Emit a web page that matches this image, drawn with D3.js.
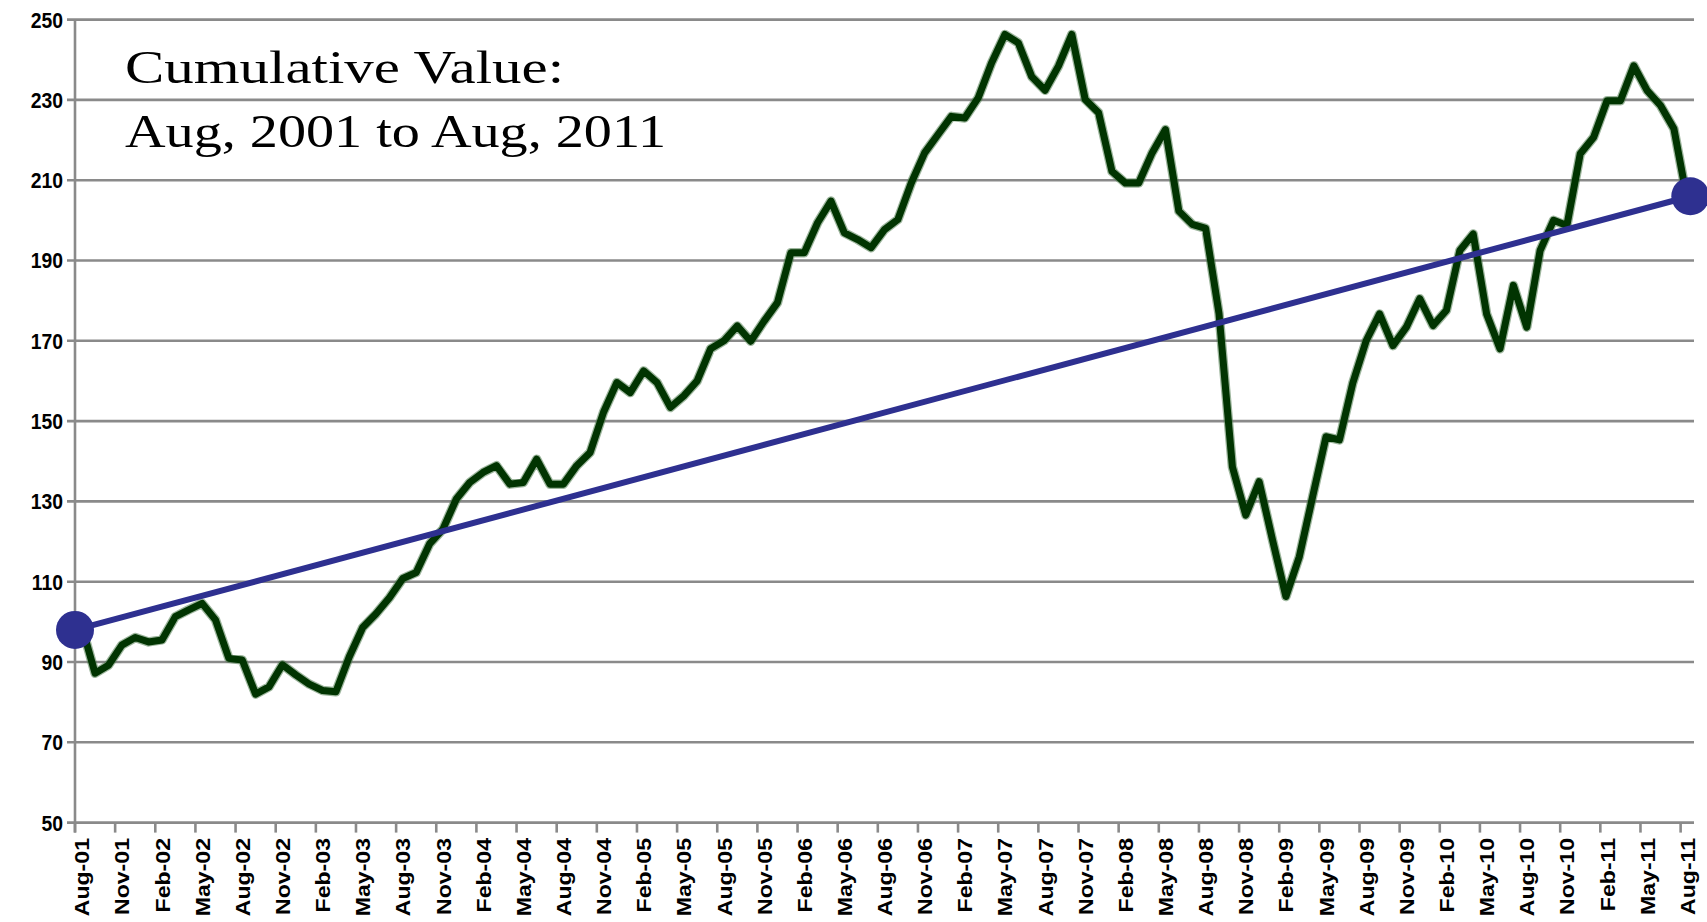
<!DOCTYPE html>
<html>
<head>
<meta charset="utf-8">
<title>Cumulative Value</title>
<script src="https://cdn.jsdelivr.net/npm/d3@7"></script>
<style>
  body { margin: 0; background: #fff; }
  .ylab { font: bold 22px "Liberation Sans", Arial, sans-serif; fill: #000; }
  .xlab { font: bold 21px "Liberation Sans", Arial, sans-serif; fill: #000; }
  .title { font: 46px "Liberation Serif", "Times New Roman", serif; fill: #000; }
</style>
</head>
<body>
<div id="chart"></div>
<script>
var width = 1707, height = 922;

// monthly categories, Aug-01 .. Aug-11
var firstMonth = new Date(2001, 7, 1);
var lastMonth = new Date(2011, 7, 1);

// cumulative value, one per month
var values = [
  99, 87.2, 89.2, 94.2, 96.1, 95, 95.5, 101.3, 103, 104.6, 100.5, 90.9,
  90.5, 82, 83.8, 89.3, 86.8, 84.5, 82.9, 82.6, 91.3, 98.6, 102, 106,
  110.8, 112.3, 119.4, 123.1, 130.6, 134.7, 137.2, 138.9, 134.3, 134.7, 140.5, 134.3,
  134.3, 138.9, 142.2, 152.2, 159.6, 157.1, 162.5, 159.6, 153.4, 156.3, 160, 168,
  170, 173.7, 169.9, 174.9, 179.5, 191.9, 191.9, 199.4, 204.8, 196.9, 195.2, 193.2,
  197.7, 200.2, 209.3, 216.8, 221.4, 225.9, 225.5, 230.5, 239.2, 246.3, 244.2, 235.8,
  232.4, 238.4, 246.3, 230.1, 226.8, 212.2, 209.3, 209.3, 216.8, 222.6, 202.3, 199,
  198, 176.8, 138.6, 126.6, 134.9, 120.4, 106.3, 116.2, 131.2, 146.1, 145.3, 159.5,
  170, 176.7, 168.8, 173.4, 180.5, 173.8, 177.6, 192.5, 196.6, 176.7, 168, 183.8,
  173.4, 192.5, 200, 198.7, 216.6, 220.7, 229.8, 229.8, 238.5, 232.3, 228.6, 222.8,
  205
];

// linear trend end points
var trendValues = [98, 206];

var yTicks = [50, 70, 90, 110, 130, 150, 170, 190, 210, 230, 250];
var labelEvery = 3;
var titleLines = ["Cumulative Value:", "Aug, 2001 to Aug, 2011"];

var months = d3.timeMonth.range(firstMonth, d3.timeMonth.offset(lastMonth, 1));
var fmt = d3.timeFormat("%b-%y");

var svg = d3.select("#chart").append("svg")
  .attr("width", width)
  .attr("height", height);

var x = d3.scaleBand().domain(d3.range(months.length)).range([75, 1694]);
var y = d3.scaleLinear().domain([50, 250]).range([822.6, 19.6]);
var cx = function(i){ return x(i) + x.bandwidth() / 2; };

// gridlines + y ticks
svg.append("g").selectAll("line").data(yTicks).enter().append("line")
  .attr("x1", 67).attr("x2", x.range()[1])
  .attr("y1", function(d){ return y(d); })
  .attr("y2", function(d){ return y(d); })
  .attr("stroke", "#8a8a8a")
  .attr("stroke-width", 2.6);

// y axis line
svg.append("line")
  .attr("x1", x.range()[0]).attr("x2", x.range()[0])
  .attr("y1", y(250)).attr("y2", y(50) + 10)
  .attr("stroke", "#8a8a8a").attr("stroke-width", 2.6);

svg.append("g").selectAll("text").data(yTicks).enter().append("text")
  .attr("class", "ylab")
  .attr("text-anchor", "end")
  .attr("dy", "0.36em")
  .attr("transform", function(d){ return "translate(63," + y(d) + ") scale(0.88,1)"; })
  .text(function(d){ return d; });

// x ticks at category boundaries
var tickIdx = d3.range(0, months.length, labelEvery);
svg.append("g").selectAll("line").data(tickIdx).enter().append("line")
  .attr("x1", function(i){ return x(i); })
  .attr("x2", function(i){ return x(i); })
  .attr("y1", y(50)).attr("y2", y(50) + 10)
  .attr("stroke", "#8a8a8a").attr("stroke-width", 2.6);

svg.append("g").selectAll("text").data(tickIdx).enter().append("text")
  .attr("class", "xlab")
  .attr("text-anchor", "end")
  .attr("dy", "0.36em")
  .attr("transform", function(i){ return "translate(" + cx(i) + ",838) rotate(-90) scale(1.1,1)"; })
  .text(function(i){ return fmt(months[i]); });

// series
var line = d3.line()
  .x(function(d, i){ return cx(i); })
  .y(function(d){ return y(d); });

svg.append("path").datum(values)
  .attr("d", line)
  .attr("fill", "none")
  .attr("stroke", "#4d7a4d")
  .attr("stroke-opacity", 0.55)
  .attr("stroke-width", 9.5)
  .attr("stroke-linejoin", "round");

svg.append("path").datum(values)
  .attr("d", line)
  .attr("fill", "none")
  .attr("stroke", "#013401")
  .attr("stroke-width", 7)
  .attr("stroke-linejoin", "round");

// trend: drawn from the axis to the last month
var trendX = [x(0), cx(months.length - 1) + 3];
svg.append("line")
  .attr("x1", trendX[0]).attr("y1", y(trendValues[0]))
  .attr("x2", trendX[1]).attr("y2", y(trendValues[1]))
  .attr("stroke", "#2e3090")
  .attr("stroke-width", 6);

svg.append("g").selectAll("circle").data(trendValues).enter().append("circle")
  .attr("cx", function(d, k){ return trendX[k]; })
  .attr("cy", function(d){ return y(d); })
  .attr("r", 19)
  .attr("fill", "#2e3090");

// title
var lens = [439, 541];
svg.append("g").selectAll("text").data(titleLines).enter().append("text")
  .attr("class", "title")
  .attr("x", 125)
  .attr("y", function(d, k){ return 83 + k * 64; })
  .attr("textLength", function(d, k){ return lens[k]; })
  .attr("lengthAdjust", "spacingAndGlyphs")
  .text(function(d){ return d; });
</script>
</body>
</html>
